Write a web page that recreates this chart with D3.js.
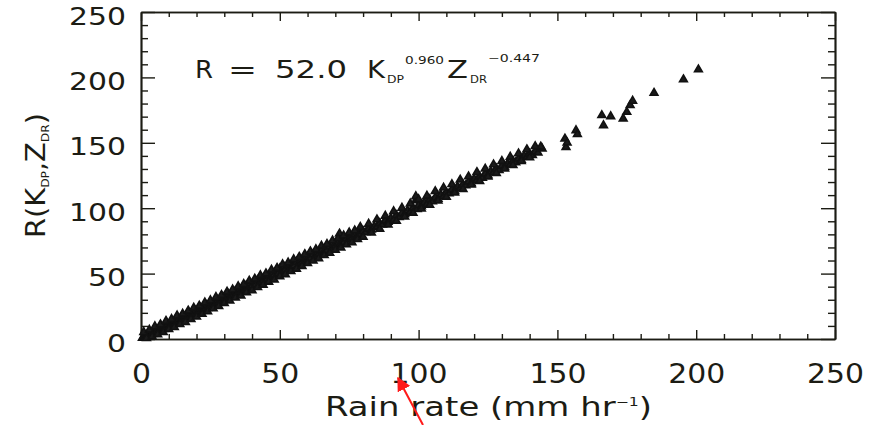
<!DOCTYPE html>
<html>
<head>
<meta charset="utf-8">
<script src="https://cdn.jsdelivr.net/npm/d3@7"></script>
<style>
  body { margin: 0; background: #fff; }
  svg { display: block; }
</style>
</head>
<body>
<svg id="chart" width="869" height="425"></svg>
<script>
// Rain rate (mm/hr) vs. R(Kdp, Zdr) estimate
const rainRate = [
  0.5, 1, 1.5, 2, 2.5, 3, 3.5, 4, 4.5, 5, 5.5, 6, 6.5, 7, 7.5, 8, 8.5, 9, 9.5, 10,
  10.5, 11, 11.5, 12, 12.5, 13, 13.5, 14, 14.5, 15, 15.5, 16, 16.5, 17, 17.5, 18, 18.5, 19, 19.5, 20,
  20.5, 21, 21.5, 22, 22.5, 23, 23.5, 24, 24.5, 25, 25.5, 26, 26.5, 27, 27.5, 28, 28.5, 29, 29.5, 30,
  30.5, 31, 31.5, 32, 32.5, 33, 33.5, 34, 34.5, 35, 35.5, 36, 36.5, 37, 37.5, 38, 38.5, 39, 39.5, 40,
  41, 41.5, 42, 43, 43.5, 44, 45, 45.5, 46, 47, 47.5, 48, 49, 49.5, 50, 51, 51.5, 52, 53, 54,
  54.5, 55, 56, 57, 57.5, 58, 59, 60, 60.5, 61, 62, 63, 63.5, 64, 65, 66, 66.5, 67, 68, 69,
  69.5, 70, 71, 72, 72.5, 73, 74, 75, 75.5, 76, 77, 78, 78.5, 79, 80,
  81, 82, 83, 84, 85, 86, 87, 88, 89, 90, 91, 92, 93, 94, 95, 96, 97, 98, 99, 99.5,
  100, 101, 102, 103, 104, 105, 106, 107, 108, 109, 110, 111, 112, 113, 114, 115, 116, 117, 118, 119,
  120, 121, 122, 123, 124, 125, 126, 127, 128, 129, 130, 131, 132, 133, 134, 135, 136, 137, 138, 139,
  140, 141, 142, 143, 144.5, 144, 71.5, 99,
  152.7, 153.1, 153.5, 156.7, 157.2, 166, 166.6, 169.2, 173.7, 175, 176.2, 177.1, 184.8, 195.4, 200.8
];
const rEstimate = [
  0.8, 1.9, 1.2, 2.6, 3.1, 2.4, 4.2, 3.6, 5.3, 4.6, 6.4, 5.5, 7.6, 6.8, 8.4, 7.5, 9.6, 8.7, 10.8, 9.4,
  11.9, 10.6, 12.8, 11.7, 13.9, 12.6, 15.1, 13.5, 16.2, 14.8, 17.0, 15.6, 18.3, 16.5, 19.4, 17.9, 20.2, 18.6, 21.5, 19.8,
  22.4, 20.7, 23.6, 21.9, 24.3, 22.8, 25.7, 23.6, 26.6, 24.9, 27.5, 25.8, 28.9, 27.1, 29.6, 28.0, 31.0, 28.9, 31.8, 30.2,
  32.9, 31.0, 34.1, 32.3, 35.0, 33.4, 36.2, 34.1, 37.3, 35.6, 38.0, 36.4, 39.3, 37.5, 40.4, 38.6, 41.0, 39.8, 42.3, 40.7,
  43.5, 41.9, 44.8, 43.6, 46.0, 44.9, 47.2, 46.1, 48.5, 47.8, 50.3, 49.0, 51.6, 50.2, 53.8, 51.9, 55.2, 53.1, 56.0, 54.8,
  57.3, 56.2, 58.9, 57.4, 60.1, 58.8, 61.5, 60.9, 63.2, 61.8, 64.7, 63.5, 66.1, 64.9, 67.6, 66.4, 68.9, 67.8, 70.6, 69.5,
  72.0, 71.1, 73.5, 72.9, 75.3, 74.0, 76.8, 75.9, 78.2, 77.0, 79.9, 78.6, 81.0, 80.2, 82.4,
  81.6, 84.2, 83.5, 86.1, 85.7, 88.4, 87.3, 90.5, 89.4, 92.3, 91.0, 94.6, 93.2, 96.0, 95.4, 98.1, 97.0, 100.3, 106.0, 99.2,
  102.4, 101.3, 104.5, 103.0, 106.7, 105.1, 108.2, 107.0, 110.4, 109.1, 112.0, 111.3, 114.2, 113.0, 116.5, 115.2, 118.0, 117.4, 120.3, 119.0,
  122.5, 121.4, 124.0, 123.1, 126.3, 125.0, 128.1, 127.2, 130.2, 129.0, 132.4, 131.3, 134.0, 133.2, 136.1, 135.0, 137.9, 136.8, 140.0, 139.1,
  141.5, 140.6, 143.2, 142.4, 145.5, 147.0, 80.5, 109.0,
  153.1, 146.7, 150.0, 159.5, 156.5, 171.0, 163.3, 170.2, 168.5, 173.5, 178.7, 182.0, 188.1, 198.4, 206.0
];
// upper edge of the dense band
const rainUpper = [
  1, 3, 5, 7, 9, 11, 13, 15, 17, 19, 21, 23, 25, 27, 29, 31, 33, 35, 37, 39,
  41, 43, 45, 47, 49, 51, 53, 55, 57, 59, 61, 63, 65, 67, 69, 71, 73, 75, 77, 79,
  82, 85, 88, 91, 94, 97, 100, 103, 106, 109, 112, 115, 118, 121, 124, 127, 130, 133, 136, 139, 142
];
const rUpper = [
  5.2, 7.0, 9.6, 11.1, 13.8, 15.2, 17.9, 19.3, 21.6, 23.8, 25.4, 27.9, 29.5, 32.0, 33.6, 36.1, 37.7, 40.2, 41.9, 44.5,
  46.0, 48.6, 50.1, 52.8, 54.3, 57.0, 58.4, 60.9, 62.7, 64.8, 66.9, 68.5, 71.2, 72.6, 75.3, 77.0, 79.1, 81.4, 82.9, 85.6,
  88.0, 91.3, 94.1, 97.6, 100.2, 103.5, 106.8, 109.4, 112.9, 115.6, 118.3, 121.7, 124.2, 127.5, 130.1, 133.4, 136.0, 139.2, 141.8, 144.9, 147.3
];
// lower edge of the dense band
const rainLower = [
  2, 4, 6, 8, 10, 12, 14, 16, 18, 20, 22, 24, 26, 28, 30, 32, 34, 36, 38, 40,
  42, 44, 46, 48, 50, 52, 54, 56, 58, 60, 62, 64, 66, 68, 70, 72, 74, 76, 78, 80,
  83, 86, 89, 92, 95, 98, 101, 104, 107, 110, 113, 116, 119, 122, 125, 128, 131, 134, 137, 140
];
const rLower = [
  0.6, 1.8, 3.5, 5.1, 7.4, 9.0, 11.3, 12.9, 15.2, 17.0, 19.1, 21.0, 23.3, 25.1, 27.4, 29.2, 31.5, 33.0, 35.6, 37.2,
  39.5, 41.4, 43.7, 45.3, 47.9, 49.4, 51.8, 53.6, 55.7, 57.9, 59.8, 61.6, 64.0, 65.7, 68.1, 69.8, 72.2, 73.9, 76.3, 78.0,
  81.2, 84.1, 87.4, 90.2, 93.5, 96.3, 99.6, 102.4, 105.7, 108.5, 111.8, 114.6, 117.9, 120.7, 124.0, 126.8, 130.1, 132.9, 136.0, 138.8
];
const majorTicks = [0, 50, 100, 150, 200, 250];
const minorTicks = [10, 20, 30, 40, 60, 70, 80, 90, 110, 120, 130, 140, 160, 170, 180, 190, 210, 220, 230, 240];

const points = [
  ...rainRate.map((r, i) => ({ x: r, y: rEstimate[i] })),
  ...rainUpper.map((r, i) => ({ x: r, y: rUpper[i] })),
  ...rainLower.map((r, i) => ({ x: r, y: rLower[i] }))
];

const svg = d3.select("#chart");
const W = +svg.attr("width"), H = +svg.attr("height");
const margin = { top: 12, right: 34, bottom: 86, left: 141 };
const ink = "#1c1c14";
const font = "DejaVu Sans";

svg.append("rect").attr("width", W).attr("height", H).attr("fill", "#fff");

const x = d3.scaleLinear().domain([0, 250]).range([margin.left, W - margin.right]);
const y = d3.scaleLinear().domain([0, 250]).range([H - margin.bottom, margin.top]);

function styleAxis(g) {
  g.select(".domain").attr("stroke", ink).attr("stroke-width", 1.7);
  g.selectAll(".tick line").attr("stroke", ink).attr("stroke-width", 1.4);
}

// bottom axis (ticks point inward)
svg.append("g")
  .attr("transform", `translate(0,${y(0)})`)
  .call(d3.axisBottom(x).tickValues(minorTicks).tickSize(-5).tickSizeOuter(0).tickFormat(""))
  .call(styleAxis);
const xAxis = svg.append("g")
  .attr("transform", `translate(0,${y(0)})`)
  .call(d3.axisBottom(x).tickValues(majorTicks).tickSize(-9).tickSizeOuter(0))
  .call(styleAxis);
xAxis.selectAll("text")
  .attr("y", 44).attr("dy", 0)
  .attr("fill", ink)
  .style("font-family", font).style("font-size", "27px")
  .attr("textLength", d => String(d).length * 19)
  .attr("lengthAdjust", "spacingAndGlyphs");

// top axis
svg.append("g")
  .attr("transform", `translate(0,${y(250)})`)
  .call(d3.axisTop(x).tickValues(minorTicks).tickSize(-5).tickSizeOuter(0).tickFormat(""))
  .call(styleAxis);
svg.append("g")
  .attr("transform", `translate(0,${y(250)})`)
  .call(d3.axisTop(x).tickValues(majorTicks).tickSize(-9).tickSizeOuter(0).tickFormat(""))
  .call(styleAxis);

// left axis
svg.append("g")
  .attr("transform", `translate(${x(0)},0)`)
  .call(d3.axisLeft(y).tickValues(minorTicks).tickSize(-7).tickSizeOuter(0).tickFormat(""))
  .call(styleAxis);
const yAxis = svg.append("g")
  .attr("transform", `translate(${x(0)},0)`)
  .call(d3.axisLeft(y).tickValues(majorTicks).tickSize(-14).tickSizeOuter(0).tickPadding(15))
  .call(styleAxis);
yAxis.selectAll("text")
  .attr("dy", "0.36em")
  .attr("y", 3)
  .attr("fill", ink)
  .style("font-family", font).style("font-size", "25px")
  .attr("textLength", d => String(d).length * 19)
  .attr("lengthAdjust", "spacingAndGlyphs");

// right axis
svg.append("g")
  .attr("transform", `translate(${x(250)},0)`)
  .call(d3.axisRight(y).tickValues(minorTicks).tickSize(-7).tickSizeOuter(0).tickFormat(""))
  .call(styleAxis);
svg.append("g")
  .attr("transform", `translate(${x(250)},0)`)
  .call(d3.axisRight(y).tickValues(majorTicks).tickSize(-14).tickSizeOuter(0).tickFormat(""))
  .call(styleAxis);

// scatter of triangles
svg.append("g")
  .selectAll("path")
  .data(points)
  .join("path")
  .attr("transform", d => `translate(${x(d.x)},${y(d.y)})`)
  .attr("d", d3.symbol(d3.symbolTriangle, 26))
  .attr("fill", "#1a1a1a")
  .attr("stroke", "#111")
  .attr("stroke-width", 1.6);

// fit equation
const eq = svg.append("g").style("font-family", font).attr("fill", ink);
const eqParts = [
  { t: "R", x: 195, y: 78, fs: 25, w: 18 },
  { t: "=", x: 228, y: 78, fs: 25, w: 29 },
  { t: "52.0", x: 275, y: 78, fs: 25, w: 72 },
  { t: "K", x: 367, y: 78, fs: 25, w: 18 },
  { t: "DP", x: 387, y: 83, fs: 10, w: 17 },
  { t: "0.960", x: 405, y: 64, fs: 10, w: 39 },
  { t: "Z", x: 447, y: 78, fs: 25, w: 21 },
  { t: "DR", x: 470, y: 83, fs: 10, w: 17 },
  { t: "\u22120.447", x: 488, y: 62, fs: 10, w: 52 }
];
eq.selectAll("text")
  .data(eqParts)
  .join("text")
  .attr("x", d => d.x).attr("y", d => d.y)
  .style("font-size", d => d.fs + "px")
  .attr("textLength", d => d.w)
  .attr("lengthAdjust", "spacingAndGlyphs")
  .text(d => d.t);

// x axis title
const xt = svg.append("text")
  .attr("x", 325).attr("y", 416)
  .attr("fill", ink)
  .style("font-family", font).style("font-size", "26px")
  .attr("textLength", 327)
  .attr("lengthAdjust", "spacingAndGlyphs");
xt.append("tspan").text("Rain rate (mm hr");
xt.append("tspan").attr("dy", -10).style("font-size", "12px").text("\u22121");
xt.append("tspan").attr("dy", 10).text(")");

// y axis title
const yt = svg.append("text")
  .attr("transform", "translate(45,238) rotate(-90)")
  .attr("fill", ink)
  .style("font-family", font).style("font-size", "26px")
  .attr("textLength", 125)
  .attr("lengthAdjust", "spacingAndGlyphs");
yt.append("tspan").text("R(K");
yt.append("tspan").attr("dy", 4).style("font-size", "11px").text("DP");
yt.append("tspan").attr("dy", -4).text(",Z");
yt.append("tspan").attr("dy", 4).style("font-size", "11px").text("DR");
yt.append("tspan").attr("dy", -4).text(")");

// red pointer arrow
svg.append("defs").append("marker")
  .attr("id", "head")
  .attr("viewBox", "0 0 10 10")
  .attr("refX", 9).attr("refY", 5)
  .attr("markerWidth", 7).attr("markerHeight", 7)
  .attr("orient", "auto")
  .append("path").attr("d", "M0,0 L10,5 L0,10 Z").attr("fill", "#ff1a1a");
svg.append("line")
  .attr("x1", 423).attr("y1", 425)
  .attr("x2", 398).attr("y2", 378)
  .attr("stroke", "#ff1a1a").attr("stroke-width", 2)
  .attr("marker-end", "url(#head)");
</script>
</body>
</html>
